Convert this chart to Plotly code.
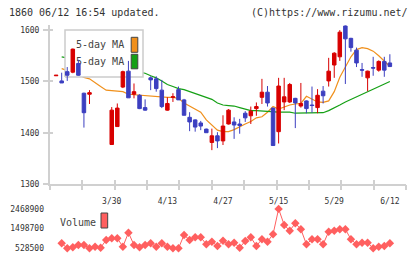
import plotly.graph_objects as go

# ---------------- data ----------------
dates = ["3/16","3/17","3/18","3/19","3/20","3/23","3/24","3/25","3/26","3/27",
         "3/30","3/31","4/1","4/2","4/3","4/6","4/7","4/8","4/9","4/10",
         "4/13","4/14","4/15","4/16","4/17","4/20","4/21","4/22","4/23","4/24",
         "4/27","4/28","4/30","5/1","5/7","5/8","5/11","5/12","5/13","5/14",
         "5/15","5/18","5/19","5/20","5/21","5/22","5/25","5/26","5/27","5/28",
         "5/29","6/1","6/2","6/3","6/4","6/5","6/8","6/9","6/10","6/11","6/12"]
label_dates = ["3/30", "4/13", "4/27", "5/15", "5/29", "6/12"]

opens  = [1511,1501,1519,1518,1535,1477,1475,None,None,None,
          1377,1412,1489,1520,1475,1473,1449,1507,1505,1483,
          1444,1469,1484,1464,1430,1425,1419,1407,1381,1394,
          1384,1417,1421,1417,1438,1433,1447,1469,1479,1448,
          1402,1460,1460,1467,1452,1462,1454,1449,1481,1501,
          1532,1548,1608,1584,1561,1523,1507,1527,1522,1539,1536]
highs  = [1512,1517,1528,1564,1542,1478,1483,None,None,None,
          1450,1457,1521,1540,1496,1475,1465,1510,1510,1503,
          1469,1477,1490,1466,1440,1426,1423,1408,1408,1401,
          1434,1446,1430,1427,1442,1451,1459,1505,1491,1449,
          1507,1507,1497,1468,1497,1463,1490,1485,1491,1546,
          1557,1600,1609,1585,1566,1536,1521,1548,1541,1548,1553]
lows   = [1511,1497,1501,1516,1511,1410,1456,None,None,None,
          1377,1412,1487,1468,1467,1446,1443,1483,1480,1448,
          1443,1460,1464,1434,1403,1402,1405,1400,1366,1370,
          1376,1416,1388,1398,1421,1417,1433,1456,1451,1375,
          1379,1444,1458,1409,1449,1438,1439,1438,1457,1490,
          1507,1540,1495,1558,1528,1509,1481,1511,1519,1509,1528]
closes = [1512,1497,1512,1563,1512,1439,1478,None,None,None,
          1444,1448,1519,1468,1480,1447,1444,1503,1486,1451,
          1457,1470,1464,1434,1421,1411,1413,1400,1394,1384,
          1413,1444,1415,1414,1429,1442,1451,1479,1458,1375,
          1491,1470,1494,1458,1457,1447,1453,1473,1472,1520,
          1555,1596,1583,1566,1536,1522,1520,1526,1539,1522,1529]

ma5 = [None,1525,1522,1518,1513,1508,1505,1497,1490,1483,
       1482,1481,1480,1475,1474,1473,1472,1471,1470,1470,
       1469,1469,1467,1458,1452,1447,1440,1425,1415,1405,
       1402,1402,1406,1412,1417,1422,1429,1431,1440,1451,
       1446,1450,1454,1456,1457,1471,1465,1460,1459,1462,
       1480,1508,1528,1548,1562,1566,1564,1559,1550,1539,1529]
ma25 = [None,1548,1546,1544,1542,1540,1538,1536,1534,1531,
        1529,1527,1524,1522,1520,1518,1516,1511,1507,1501,
        1494,1490,1486,1484,1480,1476,1473,1469,1465,1458,
        1454,1453,1452,1449,1446,1443,1443,1442,1441,1441,
        1440,1440,1440,1438,1438,1438,1438,1438,1439,1443,
        1448,1454,1460,1465,1470,1475,1480,1486,1491,1496,1500]

volume = [None,776000,528000,578000,692000,692000,528000,608000,558000,939000,
          1023000,1023000,608000,1300000,692000,578000,692000,776000,608000,776000,
          608000,528000,528000,1186000,939000,1073000,1073000,726000,855000,642000,
          905000,726000,806000,558000,890000,1073000,642000,974000,855000,1221000,
          2474000,1682000,1399000,1766000,1469000,726000,974000,974000,726000,1350000,
          1399000,1469000,1469000,974000,726000,806000,806000,528000,608000,642000,776000]

price_ticks = [1300, 1400, 1500, 1600]
vol_ticks = [528500, 1498700, 2468900]
legend_names = ["5-day MA", "5-day MA"]

# ---------------- style ----------------
RED = "#d80000"
BLUE = "#3c3fc0"
ORANGE = "#f0901c"
GREEN = "#15a015"
VOLRED = "#ff5f5f"
AXIS = "#d0d0d0"
TXT = "#333333"
FONT = "DejaVu Sans Mono"

W, H = 420, 259
ML, MR, MT, MB = 50, 14, 25, 0
PW, PH = W - ML - MR, H - MT - MB

def pxx(x):
    return (x - ML) / PW

def pyy(y):
    return (H - MB - y) / PH

idx = list(range(len(dates)))
XR = [-1.1, 62.9]
YR = [1300, 1610]
main_dom = [pyy(184), 1.0]
vol_dom = [0.0, pyy(200)]

# legend-box coordinates on a 0..1 overlay of the main plot area
def bx(x):
    return (x - 50) / 356.0

def by(y):
    return (184 - y) / 159.0

fig = go.Figure()

# moving averages (main subplot, drawn first -> under legend box)
fig.add_trace(go.Scatter(x=idx, y=ma5, mode="lines", line=dict(color=ORANGE, width=1.2),
                         xaxis="x", yaxis="y", showlegend=False, hoverinfo="skip"))
fig.add_trace(go.Scatter(x=idx, y=ma25, mode="lines", line=dict(color=GREEN, width=1.2),
                         xaxis="x", yaxis="y", showlegend=False, hoverinfo="skip"))

# legend box (overlay subplot 2)
x0, x1, y0, y1 = bx(65), bx(143), by(77), by(30)
fig.add_trace(go.Scatter(x=[x0, x1, x1, x0, x0], y=[y0, y0, y1, y1, y0], mode="lines",
                         fill="toself", fillcolor="white", line=dict(color="#cccccc", width=1.5),
                         xaxis="x2", yaxis="y2", showlegend=False, hoverinfo="skip"))
for k, (col, yc, ya, yb) in enumerate([(ORANGE, 45, 37.3, 52.3), (GREEN, 62, 54.3, 68.8)]):
    sx0, sx1 = bx(131.2), bx(137.8)
    fig.add_trace(go.Scatter(x=[sx0, sx1, sx1, sx0, sx0], y=[by(yb), by(yb), by(ya), by(ya), by(yb)],
                             mode="lines", fill="toself", fillcolor=col,
                             line=dict(color="#444444", width=1),
                             xaxis="x2", yaxis="y2", showlegend=False, hoverinfo="skip"))
    fig.add_trace(go.Scatter(x=[bx(76)], y=[by(yc)], mode="text", text=[legend_names[k]],
                             textposition="middle right",
                             textfont=dict(family=FONT, size=10, color="#444444"),
                             xaxis="x2", yaxis="y2", showlegend=False, hoverinfo="skip"))

# candles (overlay subplot 3, on top of legend box)
fig.add_trace(go.Candlestick(x=idx, open=opens, high=highs, low=lows, close=closes,
                             increasing=dict(line=dict(color=RED, width=1), fillcolor=RED),
                             decreasing=dict(line=dict(color=BLUE, width=1), fillcolor=BLUE),
                             whiskerwidth=0, xaxis="x3", yaxis="y3", showlegend=False,
                             hoverinfo="skip"))

# volume
fig.add_trace(go.Scatter(x=idx, y=volume, mode="lines+markers",
                         line=dict(color=VOLRED, width=1),
                         marker=dict(symbol="diamond", size=6.5, color=VOLRED),
                         xaxis="x4", yaxis="y4", showlegend=False, hoverinfo="skip"))

div_ticks = [XR[0] + k * (XR[1] - XR[0]) / 11 for k in range(12)]

fig.update_layout(
    width=W, height=H, margin=dict(l=ML, r=MR, t=MT, b=MB, pad=0, autoexpand=False),
    paper_bgcolor="white", plot_bgcolor="white",
    boxgap=0.1, showlegend=False,
    font=dict(family=FONT, size=8, color=TXT),
    xaxis=dict(domain=[0, 1], range=XR, anchor="y", showgrid=False, zeroline=False,
               showline=True, linecolor=AXIS, linewidth=2, automargin=False,
               tickmode="array", tickvals=[dates.index(d) for d in label_dates], ticktext=label_dates,
               ticks="", ticklabelstandoff=8, tickfont=dict(family=FONT, size=8, color=TXT)),
    yaxis=dict(domain=main_dom, range=YR, anchor="x", showgrid=False, zeroline=False,
               showline=True, linecolor=AXIS, linewidth=2, automargin=False,
               tickmode="array", tickvals=price_ticks, ticktext=[str(v) for v in price_ticks],
               ticks="outside", ticklen=5, tickwidth=2, tickcolor=AXIS,
               ticklabelstandoff=2, tickfont=dict(family=FONT, size=8, color=TXT)),
    xaxis2=dict(overlaying="x", anchor="y2", range=[0, 1], showgrid=False, zeroline=False,
                showline=False, tickmode="array", tickvals=[k / 11 for k in range(12)], automargin=False,
                ticks="outside", ticklen=5, tickwidth=2, tickcolor=AXIS, showticklabels=False),
    yaxis2=dict(overlaying="y", anchor="x2", range=[0, 1], showgrid=False, zeroline=False,
                showline=False, showticklabels=False, ticks="", automargin=False),
    xaxis3=dict(overlaying="x", anchor="y3", range=XR, showgrid=False, zeroline=False,
                showline=False, tickmode="array", tickvals=div_ticks, automargin=False,
                ticks="inside", ticklen=4, tickwidth=2, tickcolor=AXIS, showticklabels=False),
    yaxis3=dict(overlaying="y", anchor="x3", range=YR, showgrid=False, zeroline=False,
                showline=False, tickmode="array", tickvals=price_ticks, automargin=False,
                ticks="inside", ticklen=3, tickwidth=2, tickcolor=AXIS, showticklabels=False),
    xaxis4=dict(domain=[0, 1], anchor="y4", range=XR, showgrid=False, zeroline=False, automargin=False,
                showline=False, showticklabels=False, ticks="", rangeslider=dict(visible=False)),
    yaxis4=dict(domain=vol_dom, anchor="x4", range=[0, 2913000], showgrid=False, zeroline=False,
                showline=False, tickmode="array", tickvals=vol_ticks, automargin=False,
                ticktext=[str(v) for v in vol_ticks], ticks="", ticklabelstandoff=5,
                tickfont=dict(family=FONT, size=8, color=TXT)),
    annotations=[
        dict(text="1860 06/12 16:54 updated.", x=pxx(7), y=pyy(13), xref="paper", yref="paper",
             xanchor="left", yanchor="middle", showarrow=False,
             font=dict(family=FONT, size=10, color=TXT)),
        dict(text="(C)https://www.rizumu.net/", x=pxx(410), y=pyy(13), xref="paper", yref="paper",
             xanchor="right", yanchor="middle", showarrow=False,
             font=dict(family=FONT, size=10, color=TXT)),
        dict(text="Volume", x=pxx(58), y=pyy(222), xref="paper", yref="paper",
             xanchor="left", yanchor="middle", showarrow=False,
             font=dict(family=FONT, size=10, color="#444444")),
    ],
    shapes=[
        dict(type="rect", xref="paper", yref="paper", x0=pxx(101), x1=pxx(107.7),
             y0=pyy(228), y1=pyy(213), fillcolor=VOLRED, line=dict(color="#444444", width=1)),
    ],
)
fig.update_xaxes(rangeslider_visible=False)

fig.write_html("out.html")
